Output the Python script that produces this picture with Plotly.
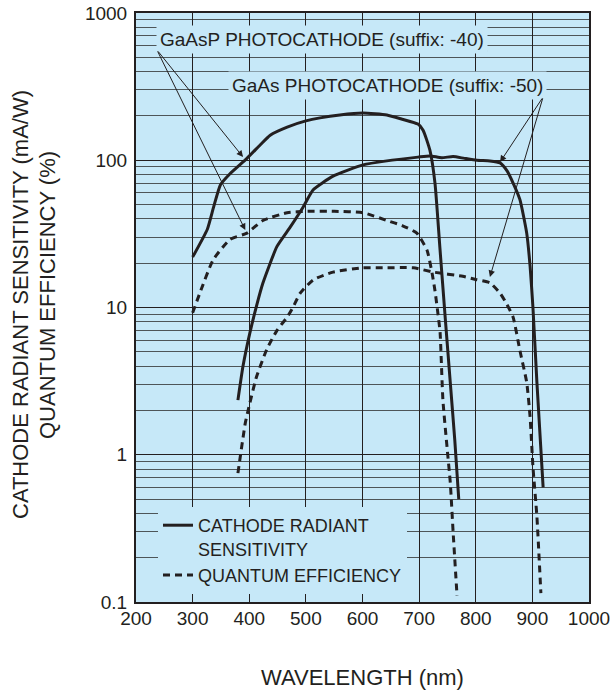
import math
import plotly.graph_objects as go

# ---- data ----
wl_gaasp_crs = [300, 326, 337, 349, 366, 396, 420, 437, 467, 500, 525, 560, 601, 643, 670, 698, 707, 719, 728, 737, 746, 755, 763, 770]
gaasp_crs = [22, 34, 48, 68, 81, 103, 128, 148, 168, 185, 194, 203, 209, 203, 190, 176, 160, 117, 70, 24.5, 8.6, 3.1, 1.25, 0.5]

wl_gaasp_qe = [300, 313, 336, 366, 396, 424, 467, 502, 550, 601, 643, 670, 696, 714, 723, 728, 734, 737, 742, 750, 755, 760, 767]
gaasp_qe = [9.2, 12.6, 21, 29, 32, 39, 44, 45, 45, 44, 39, 36, 32, 24.5, 17, 13, 8.6, 6.8, 2.35, 1.05, 0.65, 0.3, 0.11]

wl_gaas_crs = [380, 389, 401, 413, 424, 449, 472, 495, 513, 548, 601, 643, 698, 719, 740, 760, 780, 802, 825, 843, 855, 866, 878, 890, 896, 901, 908, 919]
gaas_crs = [2.35, 4, 6.7, 10.3, 14.6, 26, 35, 48, 63, 78, 93, 99, 105, 107, 104, 106, 103, 100, 99, 96, 85, 70, 54, 32, 19, 10, 3.1, 0.6]

wl_gaas_qe = [380, 393, 401, 413, 431, 449, 467, 477, 490, 513, 548, 601, 631, 690, 725, 777, 800, 825, 843, 855, 866, 878, 890, 896, 901, 908, 915]
gaas_qe = [0.75, 1.64, 2.24, 3.4, 5.2, 7, 8.6, 10, 12.5, 15.4, 17.4, 18.6, 18.6, 18.6, 17.4, 16.3, 15.5, 14.7, 12.5, 10.5, 8.6, 5.1, 3.1, 1.8, 0.83, 0.38, 0.115]

x_ticks = [200, 300, 400, 500, 600, 700, 800, 900, 1000]
y_ticks = [0.1, 1, 10, 100, 1000]
y_tick_text = ["0.1", "1", "10", "100", "1000"]

INK = "#231f20"
BG = "#c6e8f8"
LW = 3
DASH = "7px,5px"
FONT = "Liberation Sans, Arial"
SM = 0.5

fig = go.Figure()
fig.add_trace(go.Scatter(x=wl_gaasp_crs, y=gaasp_crs, mode="lines", line=dict(color=INK, width=LW, shape="spline", smoothing=SM),
                         name="CATHODE RADIANT<br>SENSITIVITY", showlegend=True))
fig.add_trace(go.Scatter(x=wl_gaasp_qe, y=gaasp_qe, mode="lines", line=dict(color=INK, width=LW, dash=DASH, shape="spline", smoothing=SM),
                         name="QUANTUM EFFICIENCY", showlegend=True))
fig.add_trace(go.Scatter(x=wl_gaas_crs, y=gaas_crs, mode="lines", line=dict(color=INK, width=LW, shape="spline", smoothing=SM),
                         showlegend=False))
fig.add_trace(go.Scatter(x=wl_gaas_qe, y=gaas_qe, mode="lines", line=dict(color=INK, width=LW, dash=DASH, shape="spline", smoothing=SM),
                         showlegend=False))

minor_vals = [m * 10 ** k for k in range(-1, 3) for m in range(2, 10)]

fig.update_xaxes(range=[200, 1000], tickvals=x_ticks, ticktext=[str(v) for v in x_ticks],
                 showgrid=True, gridcolor=INK, gridwidth=1, zeroline=False,
                 showline=True, mirror=True, linecolor=INK, linewidth=2,
                 ticks="", tickfont=dict(family=FONT, size=19, color=INK),
                 ticklabelstandoff=-2, automargin=False)
fig.update_yaxes(type="log", range=[-1, 3], tickvals=y_ticks, ticktext=y_tick_text,
                 showgrid=True, gridcolor=INK, gridwidth=1, zeroline=False,
                 showline=True, mirror=True, linecolor=INK, linewidth=2,
                 ticks="", tickfont=dict(family=FONT, size=19, color=INK),
                 ticklabelstandoff=3, automargin=False,
                 minor=dict(tickvals=minor_vals, showgrid=True, gridcolor="#4d5558", gridwidth=1, ticks=""))

annotations = []
font_lbl = dict(family=FONT, size=19, color=INK)
# labels
annotations.append(dict(x=529, y=2.817, xref="x", yref="y", text="GaAsP PHOTOCATHODE (suffix: -40)",
                        showarrow=False, font=font_lbl, bgcolor=BG, borderpad=3, xanchor="center", yanchor="middle"))
annotations.append(dict(x=645, y=2.511, xref="x", yref="y", text="GaAs PHOTOCATHODE (suffix: -50)",
                        showarrow=False, font=font_lbl, bgcolor=BG, borderpad=3, xanchor="center", yanchor="middle"))
# arrows
for (hx, hy, tx, ty) in [(389, 2.022, 237, 2.749), (393, 1.526, 237, 2.749),
                         (843, 1.988, 919, 2.43), (825, 1.207, 919, 2.43)]:
    annotations.append(dict(x=hx, y=hy, xref="x", yref="y", ax=tx, ay=ty, axref="x", ayref="y",
                            text="", showarrow=True, arrowhead=2, arrowsize=1.3, arrowwidth=1,
                            arrowcolor=INK, standoff=0, startstandoff=0))
# axis titles
title_font = dict(family=FONT, size=22, color=INK)
annotations.append(dict(x=(20 - 136) / 453, y=(602 - 305) / 589, xref="paper", yref="paper",
                        text="CATHODE RADIANT SENSITIVITY (mA/W)", textangle=-90, showarrow=False,
                        font=title_font, xanchor="center", yanchor="middle"))
annotations.append(dict(x=(47 - 136) / 453, y=(602 - 295) / 589, xref="paper", yref="paper",
                        text="QUANTUM EFFICIENCY (%)", textangle=-90, showarrow=False,
                        font=title_font, xanchor="center", yanchor="middle"))
annotations.append(dict(x=0.5, y=(602 - 678) / 589, xref="paper", yref="paper",
                        text="WAVELENGTH (nm)", showarrow=False,
                        font=title_font, xanchor="center", yanchor="middle"))

shapes = [
    dict(type="line", xref="x", yref="paper", x0=244, x1=820, y0=(2.742 + 1) / 4, y1=(2.742 + 1) / 4,
         line=dict(color="#6b6b6b", width=1.5)),
    dict(type="line", xref="x", yref="paper", x0=368, x1=923, y0=(2.436 + 1) / 4, y1=(2.436 + 1) / 4,
         line=dict(color="#6b6b6b", width=1.5)),
]

fig.update_layout(
    width=612, height=692,
    margin=dict(l=136, r=23, t=13, b=90, autoexpand=False),
    paper_bgcolor="white", plot_bgcolor=BG,
    font=dict(family=FONT, color=INK),
    annotations=annotations, shapes=shapes,
    legend=dict(x=(158 - 136) / 453, y=(602 - 594) / 589, xanchor="left", yanchor="bottom", bgcolor=BG,
                font=dict(family=FONT, size=18, color=INK),
                valign="top", tracegroupgap=0, itemwidth=30, borderwidth=0),
)

fig.write_html("out.html", config={"displayModeBar": False},
               post_script="document.body.style.margin='0';document.body.style.padding='0';"
                           "document.body.style.overflow='hidden';")
